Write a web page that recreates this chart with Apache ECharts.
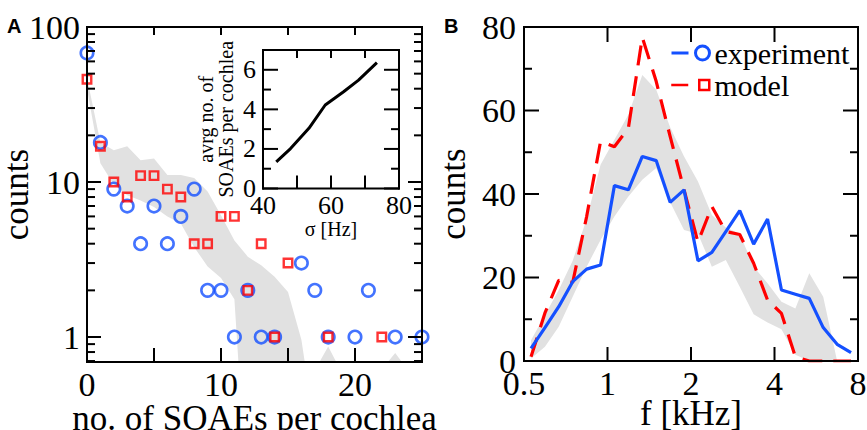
<!DOCTYPE html>
<html>
<head>
<meta charset="utf-8">
<script src="https://cdn.jsdelivr.net/npm/echarts@6/dist/echarts.min.js"></script>
<style>
  html, body { margin: 0; padding: 0; background: #fff; }
  #chart { width: 867px; height: 430px; }
</style>
</head>
<body>
<div id="chart"></div>
<script>
// ---- Panel A: number of SOAEs per cochlea ----
const nSoaeExp = [0, 1, 2, 3, 4, 5, 6, 7, 8, 9, 10, 11, 12, 13, 14, 16, 17, 18, 20, 21, 23, 25];
const cochleaeExp = [68, 18, 9, 7, 4, 7, 4, 6, 9, 2, 2, 1, 2, 1, 1, 3, 2, 1, 1, 2, 1, 1];
const nSoaeModel = [0, 1, 2, 3, 4, 5, 6, 7, 8, 9, 10, 11, 12, 13, 14, 15, 18, 22];
const cochleaeModel = [46, 17, 10, 8, 11, 11, 9, 8, 4, 4, 6, 6, 2, 4, 1, 3, 1, 1];
// spread of model realisations (upper and lower edge, [n, counts])
const spreadAUpper = [[0, 47], [1, 18], [2, 16], [3, 17], [4, 13.8], [5, 14.2], [6, 11.1], [7, 11.1],
  [8, 10.6], [9, 8.7], [10, 6.1], [11, 4.2], [12, 3.3], [13, 2.9], [14, 2.45], [15, 1.95], [16, 0.96],
  [16.25, 0.69], [17.35, 0.69], [18, 0.87], [18.6, 0.69], [22.45, 0.69], [23, 0.79], [23.5, 0.69]];
const spreadALower = [[0, 40], [1, 13.2], [2, 9.6], [3, 8.2], [4, 7.6], [5, 6.9], [6, 6.0], [7, 5.4],
  [8, 3.8], [9, 2.85], [10, 2.4], [11, 1.75], [11.3, 0.69]];
const ticksNA = [0, 5, 10, 15, 20, 25];
const ticksCountsA = [1, 10, 100];
const logMinorTicks = [0.7, 0.8, 0.9, 2, 3, 4, 5, 6, 7, 8, 9, 20, 30, 40, 50, 60, 70, 80, 90];

// ---- Inset: mean number of SOAEs vs. sigma ----
const sigmaHz = [43.9, 48.1, 53.5, 58.3, 63.7, 68.1, 73.5];
const meanSoae = [1.35, 2.02, 3.04, 4.22, 4.89, 5.48, 6.36];
const ticksSigma = [40, 50, 60, 70, 80];
const ticksMean = [0, 2, 4, 6];
const minorTicksMean = [1, 3, 5];

// ---- Panel B: SOAE frequency histogram (1/6-octave bins) ----
const freqBins = [0.530, 0.595, 0.667, 0.749, 0.841, 0.944, 1.059, 1.189, 1.335, 1.498, 1.682, 1.888,
  2.119, 2.378, 2.670, 2.997, 3.364, 3.776, 4.238, 4.757, 5.339, 5.993, 6.727, 7.551];
const freqExp = [3, 8, 13, 19, 22, 23, 42, 41, 49, 48, 38, 41, 24, 26, 31, 36, 28, 34, 17, 16, 15, 8, 4, 2];
const freqModel = [1, 11.5, 19.3, 18.8, 34.6, 52.6, 51.3, 55.8, 77.5, 67, 53.8, 41, 28.5, 37, 31, 30.3,
  23.4, 14.6, 11.4, 1, 0, 0, 0, 0];
const spreadBUpper = [5, 11, 17, 24, 34, 47, 53, 59, 68.5, 65, 56, 49, 43, 35, 32, 30.5, 22.6, 18.6,
  14.2, 12.6, 21, 15.4, 0, 0];
const spreadBLower = [0.6, 3.4, 8.2, 15.4, 22.6, 29, 34.6, 39.4, 43.4, 46.2, 38, 31.4, 30.5, 22.6, 24.2,
  17.8, 11.2, 9.2, 7.6, 1.5, 0, 0, 0, 0];
const ticksFreq = [0.5, 1, 2, 4, 8];
const ticksCountsB = [0, 20, 40, 60, 80];
const minorTicksCountsB = [10, 30, 50, 70];

const FONT = 'Liberation Serif';
const BLUE = '#1450ff';
const RED = '#ff0000';
const BAND = '#e1e1e1';

const txt = (size) => ({ fontFamily: FONT, fontSize: size, color: '#000' });
const hidden = () => ({ show: false });
const isPow10 = (v) => Math.abs(Math.log10(v) - Math.round(Math.log10(v))) < 1e-6;

// List of frame pieces (four borders plus inward ticks) for one plot box.
function framePieces(o) {
  const p = ['left', 'right', 'top', 'bottom'].map((side) => ({ kind: 'edge', side }));
  o.x.forEach((v) => {
    p.push({ kind: 'x', v, side: 'bottom', len: o.xBottom });
    p.push({ kind: 'x', v, side: 'top', len: o.xTop });
  });
  o.y.forEach((v) => {
    p.push({ kind: 'y', v, side: 'left', len: o.yLen });
    p.push({ kind: 'y', v, side: 'right', len: o.yLen });
  });
  (o.yMinor || []).forEach((v) => {
    p.push({ kind: 'y', v, side: 'left', len: o.yMinorLen });
    p.push({ kind: 'y', v, side: 'right', len: o.yMinorLen });
  });
  return p;
}

// Draws each frame piece as a thin filled quad, placed with the axes' own scales.
function frameSeries(xi, yi, pieces, xRef, yRef) {
  return {
    type: 'custom', xAxisIndex: xi, yAxisIndex: yi, z: 6, silent: true,
    data: pieces.map(() => [xRef, yRef]),
    renderItem: (params, api) => {
      const pc = pieces[params.dataIndex];
      const cs = params.coordSys;
      const L = cs.x, R = cs.x + cs.width, T = cs.y, B = cs.y + cs.height;
      let x0, x1, y0, y1;
      if (pc.kind === 'edge') {
        if (pc.side === 'left') { x0 = L - 1; x1 = L + 1; y0 = T - 1; y1 = B + 1; }
        else if (pc.side === 'right') { x0 = R - 1; x1 = R + 1; y0 = T - 1; y1 = B + 1; }
        else if (pc.side === 'top') { x0 = L - 1; x1 = R + 1; y0 = T - 1; y1 = T + 1; }
        else { x0 = L - 1; x1 = R + 1; y0 = B - 1; y1 = B + 1; }
      } else if (pc.kind === 'x') {
        const x = api.coord([pc.v, yRef])[0];
        x0 = x - 1; x1 = x + 1;
        if (pc.side === 'bottom') { y0 = B - pc.len; y1 = B; } else { y0 = T; y1 = T + pc.len; }
      } else {
        const y = api.coord([xRef, pc.v])[1];
        y0 = y - 1; y1 = y + 1;
        if (pc.side === 'left') { x0 = L; x1 = L + pc.len; } else { x0 = R - pc.len; x1 = R; }
      }
      return { type: 'polygon', shape: { points: [[x0, y0], [x1, y0], [x1, y1], [x0, y1]] }, style: { fill: '#000' } };
    }
  };
}

const framePiecesA = framePieces({ x: ticksNA, xBottom: 14, xTop: 8, y: ticksCountsA, yLen: 14,
  yMinor: logMinorTicks, yMinorLen: 8 });
const framePiecesInset = framePieces({ x: ticksSigma, xBottom: 13, xTop: 8, y: ticksMean, yLen: 15,
  yMinor: minorTicksMean, yMinorLen: 8 });
const framePiecesB = framePieces({ x: ticksFreq, xBottom: 14, xTop: 15, y: ticksCountsB, yLen: 15,
  yMinor: minorTicksCountsB, yMinorLen: 8 });

const chart = echarts.init(document.getElementById('chart'), null, { renderer: 'svg' });

const option = {
  animation: false,
  backgroundColor: '#fff',
  title: [
    { text: 'A', left: 7, top: 16, padding: 0,
      textStyle: { fontFamily: 'Liberation Sans', fontWeight: 'bold', fontSize: 20, color: '#000' } },
    { text: 'B', left: 444, top: 16, padding: 0,
      textStyle: { fontFamily: 'Liberation Sans', fontWeight: 'bold', fontSize: 20, color: '#000' } }
  ],
  grid: [
    { left: 87, top: 27, width: 335, height: 335, outerBoundsMode: 'none' },
    { left: 263, top: 50, width: 136, height: 138.5, outerBoundsMode: 'none' },
    { left: 524, top: 27, width: 334, height: 334, outerBoundsMode: 'none' }
  ],
  legend: [
    { orient: 'vertical', left: 670, top: 38, padding: 0, itemWidth: 38, itemHeight: 14, selectedMode: false,
      textStyle: { fontFamily: FONT, fontSize: 30, color: '#000', lineHeight: 30 },
      data: [{ name: 'experiment',
        icon: 'path://M0,7L17,7M24,7A7,7,0,1,1,38,7A7,7,0,1,1,24,7',
        itemStyle: { color: 'rgba(0,0,0,0)', borderColor: BLUE, borderWidth: 3 } }] },
    { orient: 'vertical', left: 670, top: 70, padding: 0, itemWidth: 38, itemHeight: 10, selectedMode: false,
      textStyle: { fontFamily: FONT, fontSize: 30, color: '#000', lineHeight: 30 },
      data: [{ name: 'model',
        icon: 'path://M0,5L17,5M28,0L38,0L38,10L28,10Z',
        itemStyle: { color: 'rgba(0,0,0,0)', borderColor: RED, borderWidth: 2.5 } }] }
  ],
  xAxis: [
    { gridIndex: 0, type: 'value', position: 'bottom', min: 0, max: 25, interval: 5,
      axisLine: hidden(), axisTick: hidden(), splitLine: hidden(),
      axisLabel: Object.assign(txt(34), { margin: 5, formatter: (v) => (v % 10 === 0 ? String(v) : '') }),
      name: 'no. of SOAEs per cochlea', nameLocation: 'middle', nameGap: 39, nameMoveOverlap: false,
      nameTextStyle: txt(35) },
    { gridIndex: 1, type: 'value', position: 'bottom', min: 40, max: 80, interval: 10,
      axisLine: hidden(), axisTick: hidden(), splitLine: hidden(),
      axisLabel: Object.assign(txt(26), { margin: 4, formatter: (v) => (v % 20 === 0 ? String(v) : '') }),
      name: 'σ [Hz]', nameLocation: 'middle', nameGap: 30, nameMoveOverlap: false, nameTextStyle: txt(20) },
    { gridIndex: 2, type: 'log', logBase: 2, position: 'bottom', min: 0.5, max: 8,
      axisLine: hidden(), axisTick: hidden(), splitLine: hidden(),
      axisLabel: Object.assign(txt(34), { margin: 5 }),
      name: 'f [kHz]', nameLocation: 'middle', nameGap: 35, nameMoveOverlap: false, nameTextStyle: txt(35) }
  ],
  yAxis: [
    { gridIndex: 0, type: 'log', logBase: 10, position: 'left', min: 0.69, max: 100,
      axisLine: hidden(), axisTick: hidden(), splitLine: hidden(),
      axisLabel: Object.assign(txt(34), { margin: 7, formatter: (v) => (isPow10(v) ? String(Math.round(v)) : '') }),
      name: 'counts', nameLocation: 'middle', nameGap: 53, nameMoveOverlap: false, nameTextStyle: txt(35) },
    { gridIndex: 1, type: 'value', position: 'left', min: 0, max: 7, interval: 2,
      axisLine: hidden(), axisTick: hidden(), splitLine: hidden(),
      axisLabel: Object.assign(txt(26), { margin: 7, formatter: (v) => (v % 2 === 0 && v <= 6 ? String(v) : '') }),
      name: 'avrg no. of\nSOAEs per cochlea', nameLocation: 'middle', nameGap: 27, nameMoveOverlap: false,
      nameTextStyle: Object.assign(txt(20), { lineHeight: 20 }) },
    { gridIndex: 2, type: 'value', position: 'left', min: 0, max: 80, interval: 20,
      axisLine: hidden(), axisTick: hidden(), splitLine: hidden(),
      axisLabel: Object.assign(txt(34), { margin: 8 }),
      name: 'counts', nameLocation: 'middle', nameGap: 53, nameMoveOverlap: false, nameTextStyle: txt(35) }
  ],
  series: [
    // grey spread of the model, panel A
    { type: 'custom', name: 'model spread (per cochlea)', xAxisIndex: 0, yAxisIndex: 0, z: 1, silent: true,
      data: [[0, 1]],
      renderItem: (params, api) => {
        const pts = spreadAUpper.map((p) => api.coord(p))
          .concat(spreadALower.slice().reverse().map((p) => api.coord(p)));
        return { type: 'polygon', shape: { points: pts }, style: { fill: BAND } };
      } },
    { type: 'scatter', name: 'experiment (per cochlea)', xAxisIndex: 0, yAxisIndex: 0, z: 3,
      data: nSoaeExp.map((n, i) => [n, cochleaeExp[i]]),
      symbol: 'circle', symbolSize: 12.5,
      itemStyle: { color: 'rgba(0,0,0,0)', borderColor: BLUE, borderWidth: 2.6 } },
    { type: 'scatter', name: 'model (per cochlea)', xAxisIndex: 0, yAxisIndex: 0, z: 4,
      data: nSoaeModel.map((n, i) => [n, cochleaeModel[i]]),
      symbol: 'rect', symbolSize: 8.5,
      itemStyle: { color: 'rgba(0,0,0,0)', borderColor: RED, borderWidth: 2.4 } },
    frameSeries(0, 0, framePiecesA, 0, 1),
    // inset curve
    { type: 'line', name: 'mean SOAEs vs sigma', xAxisIndex: 1, yAxisIndex: 1, z: 3,
      data: sigmaHz.map((s, i) => [s, meanSoae[i]]),
      symbol: 'none', lineStyle: { color: '#000', width: 3 } },
    frameSeries(1, 1, framePiecesInset, 40, 0),
    // grey spread of the model, panel B
    { type: 'custom', name: 'model spread (frequency)', xAxisIndex: 2, yAxisIndex: 2, z: 1, silent: true,
      data: [[1, 1]],
      renderItem: (params, api) => {
        const up = spreadBUpper.map((v, i) => api.coord([freqBins[i], v]));
        const lo = spreadBLower.map((v, i) => api.coord([freqBins[i], v])).reverse();
        return { type: 'polygon', shape: { points: up.concat(lo) }, style: { fill: BAND } };
      } },
    { type: 'line', name: 'model', xAxisIndex: 2, yAxisIndex: 2, z: 3,
      data: freqBins.map((f, i) => [f, freqModel[i]]),
      symbol: 'none', itemStyle: { color: RED },
      lineStyle: { color: RED, width: 3.2, type: [20, 11] } },
    { type: 'line', name: 'experiment', xAxisIndex: 2, yAxisIndex: 2, z: 4,
      data: freqBins.map((f, i) => [f, freqExp[i]]),
      symbol: 'none', itemStyle: { color: BLUE },
      lineStyle: { color: BLUE, width: 3.2 } },
    frameSeries(2, 2, framePiecesB, 1, 0)
  ]
};

chart.setOption(option);
chart.getZr().refreshImmediately();
</script>
</body>
</html>
